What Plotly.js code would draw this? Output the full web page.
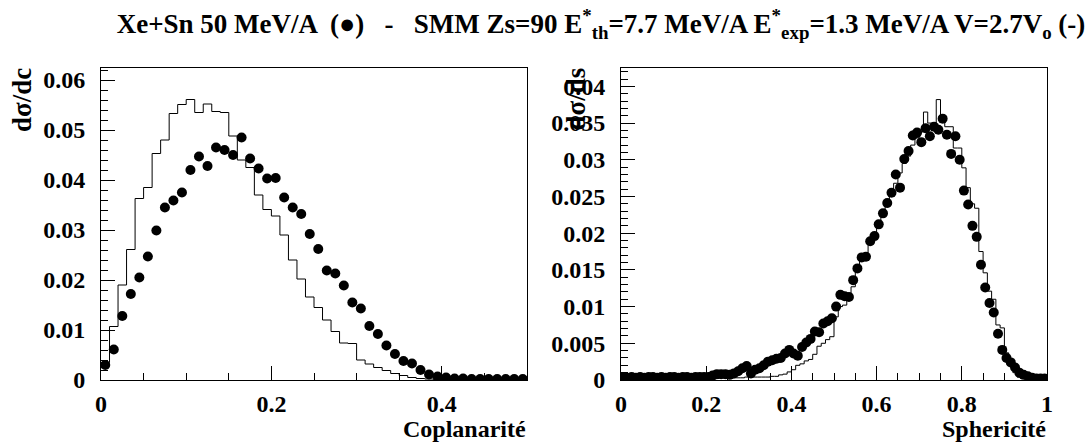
<!DOCTYPE html>
<html>
<head>
<meta charset="utf-8">
<script src="https://cdn.plot.ly/plotly-3.0.1.min.js"></script>
<style>
html,body{margin:0;padding:0;background:#fff;}
#plot{width:1091px;height:445px;}
</style>
</head>
<body>
<div id="plot"></div>
<script>
// ---- Left panel: Coplanarité (50 bins of 0.01 from 0 to 0.5) ----
const copBinWidth = 0.01;
const copData = [0.0030, 0.0061, 0.0128, 0.0172, 0.0205, 0.0247, 0.0299, 0.0345, 0.0359, 0.0375,
  0.0420, 0.0447, 0.0428, 0.0465, 0.0460, 0.0450, 0.0485, 0.0443, 0.0423, 0.0403,
  0.0404, 0.0365, 0.0345, 0.0332, 0.0292, 0.0262, 0.0219, 0.0213, 0.0189, 0.0155,
  0.0143, 0.0108, 0.0092, 0.0069, 0.0052, 0.0038, 0.0033, 0.0020, 0.0011, 0.0007,
  0.0005, 0.0003, 0.0003, 0.0002, 0.0002, 0.0002, 0.0002, 0.0002, 0.0002, 0.0002];
const copSim = [0.0035, 0.0107, 0.0190, 0.0261, 0.0363, 0.0385, 0.0453, 0.0480, 0.0533, 0.0551,
  0.0561, 0.0535, 0.0552, 0.0537, 0.0535, 0.0488, 0.0440, 0.0425, 0.0370, 0.0341,
  0.0328, 0.0290, 0.0240, 0.0202, 0.0166, 0.0145, 0.0120, 0.0097, 0.0074, 0.0073,
  0.0040, 0.0032, 0.0025, 0.0019, 0.0013, 0.0009, 0.0005, 0.0003, 0.0002, 0.0001,
  0.0001, 0.0001, 0.0000, 0.0000, 0.0000, 0.0000, 0.0000, 0.0000, 0.0000, 0.0000];

// ---- Right panel: Sphericité (100 bins of 0.01 from 0 to 1) ----
const sphBinWidth = 0.01;
const sphData = [0.0004, 0.0003, 0.0004, 0.0003, 0.0004, 0.0003, 0.0004, 0.0004, 0.0003, 0.0004,
  0.0003, 0.0004, 0.0004, 0.0003, 0.0004, 0.0004, 0.0003, 0.0004, 0.0004, 0.0004,
  0.0004, 0.0006, 0.0008, 0.0008, 0.0008, 0.0007, 0.0009, 0.0012, 0.0016, 0.0019,
  0.0009, 0.0014, 0.0016, 0.0020, 0.0025, 0.0027, 0.0029, 0.0030, 0.0036, 0.0041,
  0.0036, 0.0033, 0.0045, 0.0051, 0.0056, 0.0066, 0.0065, 0.0077, 0.0080, 0.0084,
  0.0100, 0.0116, 0.0114, 0.0113, 0.0136, 0.0152, 0.0167, 0.0168, 0.0189, 0.0196,
  0.0212, 0.0227, 0.0241, 0.0255, 0.0280, 0.0262, 0.0301, 0.0312, 0.0333, 0.0337,
  0.0324, 0.0343, 0.0332, 0.0345, 0.0341, 0.0356, 0.0334, 0.0308, 0.0332, 0.0300,
  0.0258, 0.0239, 0.0210, 0.0195, 0.0157, 0.0126, 0.0105, 0.0092, 0.0063, 0.0041,
  0.0030, 0.0024, 0.0017, 0.0010, 0.0007, 0.0005, 0.0003, 0.0002, 0.0002, 0.0002];
const sphSim = [0.0001, 0.0001, 0.0001, 0.0001, 0.0001, 0.0001, 0.0001, 0.0001, 0.0001, 0.0001,
  0.0001, 0.0001, 0.0001, 0.0001, 0.0001, 0.0001, 0.0001, 0.0001, 0.0001, 0.0002,
  0.0002, 0.0002, 0.0002, 0.0003, 0.0003, 0.0003, 0.0003, 0.0003, 0.0003, 0.0004,
  0.0004, 0.0004, 0.0004, 0.0004, 0.0004, 0.0005, 0.0005, 0.0007, 0.0008, 0.0011,
  0.0014, 0.0020, 0.0022, 0.0026, 0.0028, 0.0035, 0.0046, 0.0050, 0.0055, 0.0059,
  0.0086, 0.0100, 0.0102, 0.0109, 0.0127, 0.0150, 0.0163, 0.0170, 0.0185, 0.0192,
  0.0207, 0.0222, 0.0236, 0.0252, 0.0268, 0.0282, 0.0295, 0.0305, 0.0320, 0.0330,
  0.0338, 0.0365, 0.0350, 0.0350, 0.0382, 0.0351, 0.0345, 0.0345, 0.0316, 0.0316,
  0.0289, 0.0262, 0.0240, 0.0234, 0.0175, 0.0146, 0.0121, 0.0110, 0.0075, 0.0071,
  0.0037, 0.0020, 0.0010, 0.0004, 0.0002, 0.0001, 0.0001, 0.0001, 0.0001, 0.0001];

// Texts
const titleText = 'Xe+Sn 50 MeV/A  (\u25CF)   -   SMM Zs=90 E<sup>*</sup><sub>th</sub>=7.7 MeV/A E<sup>*</sup><sub>exp</sub>=1.3 MeV/A V=2.7V<sub>o</sub> (-)';
const leftXTitle = 'Coplanarité';
const leftYTitle = 'd\u03C3/dc';
const rightXTitle = 'Sphericité';
const rightYTitle = 'd\u03C3/ds';

// helpers: bin centres and step-line edges
function centres(n, w) { const a = []; for (let i = 0; i < n; i++) a.push((i + 0.5) * w); return a; }
function stepX(n, w) { const a = []; for (let i = 0; i <= n; i++) a.push(i * w); return a; }
function stepY(v) { return v.concat([v[v.length - 1]]); }

const serif = '"Liberation Serif", "DejaVu Serif Condensed", "DejaVu Serif"';
const tickFont = {family: serif, size: 24, color: '#000', weight: 'bold'};
const xTitleFont = {family: serif, size: 24, color: '#000', weight: 'bold'};
const yTitleFont = {family: serif, size: 27, color: '#000', weight: 'bold'};

const W = 1091, H = 445;
const px = x => x / W;
const py = y => 1 - y / H;

const traces = [
  {x: stepX(copSim.length, copBinWidth), y: stepY(copSim), xaxis: 'x', yaxis: 'y', type: 'scatter', mode: 'lines',
   line: {shape: 'hv', color: '#000', width: 1}, hoverinfo: 'skip'},
  {x: centres(copData.length, copBinWidth), y: copData, xaxis: 'x', yaxis: 'y', type: 'scatter', mode: 'markers',
   marker: {symbol: 'circle', size: 10, color: '#000'}, cliponaxis: true},
  {x: stepX(sphSim.length, sphBinWidth), y: stepY(sphSim), xaxis: 'x2', yaxis: 'y2', type: 'scatter', mode: 'lines',
   line: {shape: 'hv', color: '#000', width: 1}, hoverinfo: 'skip'},
  {x: centres(sphData.length, sphBinWidth), y: sphData, xaxis: 'x2', yaxis: 'y2', type: 'scatter', mode: 'markers',
   marker: {symbol: 'circle', size: 10, color: '#000'}, cliponaxis: true}
];

function axisCommon(extra) {
  return Object.assign({
    showgrid: false, zeroline: false, showline: true, mirror: true, linecolor: '#000', linewidth: 1,
    ticks: 'inside', ticklen: 14, tickcolor: '#000', tickwidth: 1,
    tickfont: tickFont, fixedrange: true
  }, extra);
}

const yDomain = [py(380), py(68)];
const layout = {
  width: W, height: H,
  paper_bgcolor: '#fff', plot_bgcolor: '#fff',
  showlegend: false,
  font: {family: serif, color: '#000'},
  margin: {l: 0, r: 0, t: 0, b: 0},
  title: {text: titleText, font: {family: serif, size: 27, color: '#000', weight: 'bold'},
          x: px(601), xanchor: 'center', xref: 'paper', y: py(24), yanchor: 'middle', yref: 'container'},
  xaxis: axisCommon({domain: [px(101), px(527)], range: [0, 0.5], dtick: 0.2, tick0: 0, anchor: 'y',
    ticklabelstandoff: 2, minor: {dtick: 0.05, ticklen: 7, ticks: 'inside', tickcolor: '#000', showgrid: false}}),
  yaxis: axisCommon({domain: yDomain, range: [0, 0.0624], dtick: 0.01, tick0: 0, anchor: 'x',
    ticklabelstandoff: 10, minor: {dtick: 0.002, ticklen: 7, ticks: 'inside', tickcolor: '#000', showgrid: false}}),
  xaxis2: axisCommon({domain: [px(621), px(1047)], range: [0, 1], dtick: 0.2, tick0: 0, anchor: 'y2',
    ticklabelstandoff: 2, minor: {dtick: 0.05, ticklen: 7, ticks: 'inside', tickcolor: '#000', showgrid: false}}),
  yaxis2: axisCommon({domain: yDomain, range: [0, 0.0425], dtick: 0.005, tick0: 0, anchor: 'x2',
    ticklabelstandoff: 10, minor: {dtick: 0.001, ticklen: 7, ticks: 'inside', tickcolor: '#000', showgrid: false}}),
  annotations: [
    {text: leftXTitle, xref: 'paper', yref: 'paper', x: px(528), y: py(444), xanchor: 'right', yanchor: 'bottom',
     showarrow: false, font: xTitleFont},
    {text: rightXTitle, xref: 'paper', yref: 'paper', x: px(1048), y: py(444), xanchor: 'right', yanchor: 'bottom',
     showarrow: false, font: xTitleFont},
    {text: leftYTitle, xref: 'paper', yref: 'paper', x: px(22), y: py(66), xanchor: 'center', yanchor: 'top',
     textangle: -90, showarrow: false, font: yTitleFont},
    {text: rightYTitle, xref: 'paper', yref: 'paper', x: px(575), y: py(66), xanchor: 'center', yanchor: 'top',
     textangle: -90, showarrow: false, font: yTitleFont}
  ]
};

Plotly.newPlot('plot', traces, layout, {staticPlot: true, displayModeBar: false});
</script>
</body>
</html>
